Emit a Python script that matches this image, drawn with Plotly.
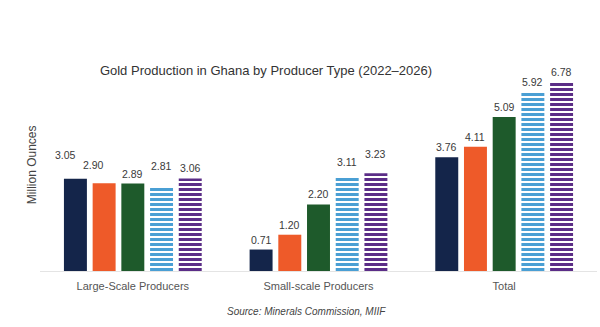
import plotly.graph_objects as go

# Producer categories and yearly output (million ounces)
categories = ["Large-Scale Producers", "Small-scale Producers", "Total"]
years = ["2022", "2023", "2024", "2025", "2026"]
output_2022 = [3.05, 0.71, 3.76]
output_2023 = [2.90, 1.20, 4.11]
output_2024 = [2.89, 2.20, 5.09]
output_2025 = [2.81, 3.11, 5.92]
output_2026 = [3.06, 3.23, 6.78]
series = [output_2022, output_2023, output_2024, output_2025, output_2026]

# Styling per year: solid fills for 2022-2024, horizontal stripes for 2025-2026
fills = ["#14254a", "#ee5a29", "#1e5a2b", "#4a9fd4", "#5b2d87"]
striped = [False, False, False, True, True]

Y_MAX = 6.25
BARGAP = 0.227
GROUPGAP = 0.2
FONT = "Liberation Sans, Arial, sans-serif"

# Small pixel nudges for value labels (dx, dy) to keep neighbours apart
label_nudge = {
    (0, 0): (-10, 14), (0, 1): (-11, 8), (0, 3): (0, 10),
    (1, 3): (0, 5), (1, 4): (0, 9),
}

fig = go.Figure()
for i, (yr, vals) in enumerate(zip(years, series)):
    marker = dict(color=fills[i], line=dict(width=0))
    if striped[i]:
        marker = dict(
            color="white",
            line=dict(width=0),
            pattern=dict(shape="-", fgcolor=fills[i], bgcolor="white",
                         size=5, solidity=0.6, fillmode="replace"),
        )
    fig.add_trace(go.Bar(name=yr, x=categories, y=vals, marker=marker,
                         showlegend=False))

# Value labels above each bar
n = len(years)
slot = (1 - BARGAP) / n
annotations = []
for i, vals in enumerate(series):
    for c, v in enumerate(vals):
        dx, dy = label_nudge.get((c, i), (0, 0))
        annotations.append(dict(
            x=c + (i - (n - 1) / 2) * slot, y=min(v, Y_MAX),
            xref="x", yref="y", text=f"{v:.2f}", showarrow=False,
            xanchor="center", yanchor="middle", xshift=dx, yshift=10 + dy,
            font=dict(family=FONT, size=10.5, color="#3a3a3a"),
        ))

annotations.append(dict(
    text="Million Ounces", textangle=-90, xref="paper", yref="paper",
    x=-8 / 557, y=0.56, showarrow=False, xanchor="center", yanchor="middle",
    font=dict(family=FONT, size=12, color="#444444"),
))
annotations.append(dict(
    text="<i>Source: Minerals Commission, MIIF</i>", xref="paper", yref="paper",
    x=(306 - 40) / 557, y=-40 / 189, showarrow=False,
    xanchor="center", yanchor="middle",
    font=dict(family=FONT, size=10, color="#444444"),
))

fig.update_layout(
    width=600, height=327,
    margin=dict(l=40, r=3, t=82, b=56),
    paper_bgcolor="white", plot_bgcolor="white",
    barmode="group", bargap=BARGAP, bargroupgap=GROUPGAP,
    title=dict(text="Gold Production in Ghana by Producer Type (2022\u20132026)",
               x=266 / 600, xanchor="center", y=1 - 70 / 327, yanchor="middle",
               font=dict(family=FONT, size=13, color="#333333")),
    xaxis=dict(showgrid=False, showline=True, linecolor="#e4e4e4", linewidth=1,
               ticks="", ticklabelstandoff=5,
               tickfont=dict(family=FONT, size=11, color="#555555")),
    yaxis=dict(range=[0, Y_MAX], showgrid=False, showline=False,
               showticklabels=False, zeroline=False, ticks=""),
    annotations=annotations,
)

fig.write_html("out.html")
